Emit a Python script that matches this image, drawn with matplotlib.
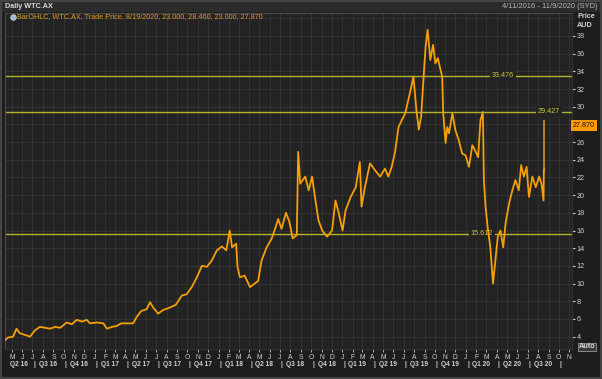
import matplotlib
matplotlib.use('Agg')
import matplotlib.pyplot as plt
import matplotlib.transforms as mtransforms
import pandas as pd

plt.rcParams['font.family'] = ['Liberation Sans', 'DejaVu Sans']

# daily WTC.AX (approximate closes)
dates = [
    '2016-04-11', '2016-04-20', '2016-05-05', '2016-05-15', '2016-05-24', '2016-06-09',
    '2016-06-24', '2016-07-08', '2016-07-23', '2016-08-07', '2016-08-22', '2016-09-06',
    '2016-09-21', '2016-10-10', '2016-10-25', '2016-11-09', '2016-11-24', '2016-12-08',
    '2016-12-18', '2017-01-07', '2017-01-26', '2017-02-06', '2017-02-21', '2017-03-06',
    '2017-03-20', '2017-04-05', '2017-04-24', '2017-05-04', '2017-05-18', '2017-06-03',
    '2017-06-13', '2017-06-22', '2017-07-07', '2017-07-21', '2017-08-11', '2017-08-28',
    '2017-09-15', '2017-09-29', '2017-10-14', '2017-10-29', '2017-11-13', '2017-11-28',
    '2017-12-12', '2017-12-27', '2018-01-11', '2018-01-24', '2018-02-03', '2018-02-10',
    '2018-02-22', '2018-02-26', '2018-03-05', '2018-03-19', '2018-04-04', '2018-04-18',
    '2018-04-28', '2018-05-08', '2018-05-23', '2018-06-07', '2018-06-17', '2018-06-26',
    '2018-07-06', '2018-07-19', '2018-07-29', '2018-08-08', '2018-08-20', '2018-08-24',
    '2018-08-30', '2018-09-14', '2018-09-24', '2018-10-04', '2018-10-14', '2018-10-23',
    '2018-11-03', '2018-11-17', '2018-12-02', '2018-12-12', '2018-12-21', '2019-01-02',
    '2019-01-11', '2019-01-26', '2019-02-10', '2019-02-22', '2019-02-27', '2019-03-09',
    '2019-03-24', '2019-04-08', '2019-04-23', '2019-05-07', '2019-05-17', '2019-05-27',
    '2019-06-06', '2019-06-16', '2019-06-26', '2019-07-06', '2019-07-15', '2019-07-23',
    '2019-07-30', '2019-08-08', '2019-08-15', '2019-08-22', '2019-08-28', '2019-09-04',
    '2019-09-10', '2019-09-18', '2019-09-26', '2019-10-03', '2019-10-10', '2019-10-16',
    '2019-10-23', '2019-10-26', '2019-11-02', '2019-11-07', '2019-11-12', '2019-11-22',
    '2019-12-01', '2019-12-11', '2019-12-21', '2019-12-31', '2020-01-10', '2020-01-20',
    '2020-01-30', '2020-02-06', '2020-02-13', '2020-02-20', '2020-02-23', '2020-02-28',
    '2020-03-05', '2020-03-13', '2020-03-21', '2020-03-28', '2020-04-04', '2020-04-12',
    '2020-04-20', '2020-04-27', '2020-05-07', '2020-05-17', '2020-05-26', '2020-06-05',
    '2020-06-12', '2020-06-20', '2020-06-28', '2020-07-05', '2020-07-15', '2020-07-25',
    '2020-08-04', '2020-08-11', '2020-08-17', '2020-08-18',
]
closes = [
    3.6, 3.9, 4.0, 4.9, 4.4, 4.2,
    4.0, 4.7, 5.1, 5.0, 4.9, 5.1,
    5.0, 5.6, 5.4, 5.9, 5.7, 5.9,
    5.5, 5.6, 5.5, 4.9, 5.1, 5.2,
    5.5, 5.5, 5.5, 6.2, 6.9, 7.1,
    7.9, 7.3, 6.6, 7.0, 7.3, 7.6,
    8.65, 8.8, 9.6, 10.7, 12.0, 11.9,
    12.6, 13.75, 14.2, 13.75, 16.0, 14.1,
    14.5, 11.9, 10.7, 10.9, 9.6, 10.0,
    10.3, 12.6, 14.1, 15.1, 16.2, 17.3,
    16.2, 18.0, 17.0, 15.1, 15.5, 24.9,
    21.3, 22.1, 20.55, 22.1, 19.4, 17.15,
    16.0, 15.3, 16.0, 19.4, 18.1, 16.0,
    18.3, 19.8, 20.9, 23.75, 18.7, 20.9,
    23.6, 22.8, 22.1, 23.0, 22.1, 23.2,
    24.9, 27.7, 28.5, 29.25, 30.75, 32.1,
    33.4, 29.6, 27.4, 28.9, 32.7, 36.8,
    38.7, 35.3, 37.0, 34.9, 35.5, 34.5,
    33.4, 29.25, 25.9, 27.7, 27.0, 29.25,
    27.35, 26.2, 24.7, 24.5, 23.2, 25.65,
    24.9, 24.3, 28.5, 29.4, 21.7, 18.7,
    16.4, 14.1, 10.0, 12.6, 15.3, 16.0,
    14.1, 16.8, 19.0, 20.55, 21.7, 20.55,
    23.4, 22.1, 23.2, 19.8, 22.1, 20.9,
    22.1, 21.3, 19.4, 22.8,
]
# last OHLC bar from the legend
last_date = '2020-08-19'
last_ohlc = [23.000, 28.460, 23.000, 27.870]

levels = [33.476, 29.427, 15.612]
level_labels = ['33.476', '29.427', '15.612']
level_label_x = [0.878, 0.959, 0.841]  # axes fraction

y_ticks = list(range(4, 40, 2))
month_letters = 'JFMAMJJASOND'
quarters = ['Q2 16', 'Q3 16', 'Q4 16', 'Q1 17', 'Q2 17', 'Q3 17', 'Q4 17', 'Q1 18',
            'Q2 18', 'Q3 18', 'Q4 18', 'Q1 19', 'Q2 19', 'Q3 19', 'Q4 19', 'Q1 20',
            'Q2 20', 'Q3 20']

BG = '#1d1d1d'
PLOT_BG = '#232323'
GRID = '#323232'
ORANGE = '#f59f0a'
YELLOW = '#b4b42a'
TXT = '#cfcfcf'
FS = 5.2

W, H = 602, 379
def fx(px):
    return px / W
def fy(py):
    return 1 - py / H

fig = plt.figure(figsize=(W / 100, H / 100), dpi=100, facecolor=BG)

# title bar
fig.patches.append(plt.Rectangle((0, fy(12)), 1, 12 / H, transform=fig.transFigure,
                                 facecolor='#2b2b2b', edgecolor='none'))
fig.patches.append(plt.Rectangle((0.001, 0.002), 0.997, 0.996, transform=fig.transFigure,
                                 fill=False, edgecolor='#444444', lw=1.5))
fig.text(fx(5), fy(6.5), 'Daily WTC.AX', color='#dddddd', fontsize=FS, weight='bold',
         ha='left', va='center')
fig.text(fx(598), fy(7), '4/11/2016 - 11/9/2020 (SYD)', color='#bbbbbb', fontsize=5.4,
         ha='right', va='center')

ax = fig.add_axes([fx(5), fy(349), fx(572) - fx(5), fy(13) - fy(349)])
ax.set_facecolor(PLOT_BG)

d = pd.to_datetime(dates)
ax.plot(d, closes, color=ORANGE, lw=1.3, zorder=3)
ld = pd.Timestamp(last_date)
ax.plot([d[-1], ld], [closes[-1], last_ohlc[0]], color=ORANGE, lw=1.3, zorder=3)
ax.vlines(ld, last_ohlc[2], last_ohlc[1], color='#c98a1e', lw=1.3, zorder=3)

start, end = pd.Timestamp('2016-04-11'), pd.Timestamp('2020-11-09')
ax.set_xlim(start, end)
ax.set_ylim(2.6, 40.6)

# support/resistance lines
blend = mtransforms.blended_transform_factory(ax.transAxes, ax.transData)
for lv, lab, lx in zip(levels, level_labels, level_label_x):
    ax.axhline(lv, color=YELLOW, lw=1.0, zorder=2)
    ax.text(lx, lv, lab, transform=blend, color='#c9c93a', fontsize=FS, ha='center',
            va='center', zorder=2.5,
            bbox=dict(facecolor=PLOT_BG, edgecolor='none', pad=1.5))

# grid
months = pd.date_range('2016-05-01', '2020-11-01', freq='MS')
for m in months:
    ax.axvline(m, color=GRID, lw=0.8, zorder=1)
for yt in range(4, 41, 2):
    ax.axhline(yt, color=GRID, lw=0.8, zorder=1)

ax.set_xticks(months)
ax.set_xticklabels([month_letters[m.month - 1] for m in months])
ax.yaxis.tick_right()
ax.set_yticks(y_ticks)
ax.set_yticklabels(['' if t == 28 else str(t) for t in y_ticks])
ax.tick_params(axis='x', length=2, pad=1.5, labelsize=4.9, colors=TXT, width=0.6)
ax.tick_params(axis='y', length=2.5, pad=1, labelsize=FS, colors=TXT, width=0.8)
for s in ['left', 'top']:
    ax.spines[s].set_color('#4a4a4a')
ax.spines['right'].set_color(GRID)
ax.spines['bottom'].set_color(GRID)

# quarter labels
xt = ax.get_xaxis_transform()
qstarts = pd.date_range('2016-04-01', '2020-10-01', freq='QS')
for i, q in enumerate(quarters):
    a = max(qstarts[i], start)
    b = qstarts[i + 1]
    ax.text(a + (b - a) / 2, -0.046, q, transform=xt, ha='center', va='center',
            fontsize=4.8, weight='bold', color=TXT, clip_on=False)
    ax.text(b + pd.Timedelta(days=6), -0.046, '|', transform=xt, ha='center', va='center',
            fontsize=4.8, weight='bold', color=TXT, clip_on=False)

# legend line
fig.add_artist(plt.Line2D([fx(13)], [fy(16.5)], marker='o', markersize=4,
                          color='#9cb8dc', markeredgecolor='#e0e0e0', markeredgewidth=0.5,
                          transform=fig.transFigure))
fig.text(fx(17), fy(16.5), 'BarOHLC, WTC.AX, Trade Price, 8/19/2020, 23.000, 28.460, 23.000, 27.870',
         color='#e09a25', fontsize=FS, ha='left', va='center')

fig.text(fx(577), fy(17), 'Price', color=TXT, fontsize=FS, weight='bold', ha='left', va='center')
fig.text(fx(577), fy(25.5), 'AUD', color=TXT, fontsize=FS, weight='bold', ha='left', va='center')

# last price tag
ax.text(1.002, last_ohlc[3], '27.870', transform=blend, color='#111111', fontsize=FS,
        ha='left', va='center', clip_on=False, zorder=5,
        bbox=dict(facecolor='#ff9a00', edgecolor='none', pad=1.2))

fig.text(fx(587), fy(347), 'Auto', color='#dddddd', fontsize=FS, weight='bold',
         ha='center', va='center',
         bbox=dict(facecolor='#3a3a3a', edgecolor='#9a9a9a', lw=0.6, pad=0.7))

fig.savefig('out.png', dpi=100, facecolor=BG)
